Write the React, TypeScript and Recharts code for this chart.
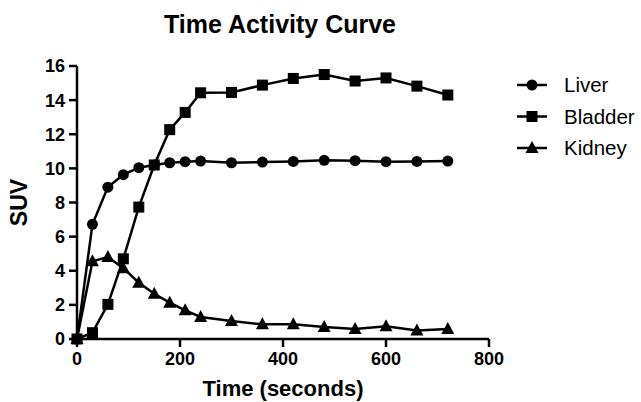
import {
  LineChart,
  Line,
  XAxis,
  YAxis,
} from "recharts";

const times = [0, 30, 60, 90, 120, 150, 180, 210, 240, 300, 360, 420, 480, 540, 600, 660, 720];
const liver = [0, 6.72, 8.9, 9.63, 10.04, 10.2, 10.33, 10.39, 10.43, 10.33, 10.37, 10.41, 10.47, 10.45, 10.39, 10.41, 10.43];
const bladder = [0, 0.37, 2.03, 4.7, 7.73, 10.2, 12.27, 13.28, 14.43, 14.45, 14.88, 15.27, 15.5, 15.12, 15.3, 14.82, 14.3];
const kidney = [0, 4.55, 4.8, 4.15, 3.3, 2.65, 2.13, 1.68, 1.29, 1.05, 0.86, 0.86, 0.7, 0.59, 0.74, 0.5, 0.58];
const xTicks = [0, 200, 400, 600, 800];
const yTicks = [0, 2, 4, 6, 8, 10, 12, 14, 16];

const FONT = "'Liberation Sans', Arial, sans-serif";
const INK = "#000";

const data = times.map((t, i) => ({
  t,
  liver: liver[i],
  bladder: bladder[i],
  kidney: kidney[i],
}));

const CircleDot = ({ cx, cy }: any) => <circle cx={cx} cy={cy} r={5.5} fill={INK} />;
const SquareDot = ({ cx, cy }: any) => (
  <rect x={cx - 5.5} y={cy - 5.5} width={11} height={11} fill={INK} />
);
const TriangleDot = ({ cx, cy }: any) => (
  <polygon points={`${cx},${cy - 7} ${cx - 6.5},${cy + 5} ${cx + 6.5},${cy + 5}`} fill={INK} />
);

const legendItems = [
  { name: "Liver", Shape: CircleDot },
  { name: "Bladder", Shape: SquareDot },
  { name: "Kidney", Shape: TriangleDot },
];

// legend sits outside the chart so it doesn't eat into the plot width
const ChartLegend = () => (
  <svg width={126} height={110} style={{ position: "absolute", left: 515, top: 65 }}>
    {legendItems.map(({ name, Shape }, i) => {
      const y = 20 + i * 31.5;
      return (
        <g key={name}>
          <line x1={2} x2={32} y1={y} y2={y} stroke={INK} strokeWidth={2.5} />
          <Shape cx={17} cy={y} />
          <text x={49} y={y + 7} fontSize={20.5} fontFamily={FONT} fill={INK}>
            {name}
          </text>
        </g>
      );
    })}
  </svg>
);

export default function App() {
  const tickStyle = { fill: INK, fontSize: 18, fontWeight: 700, fontFamily: FONT };
  return (
    <div style={{ position: "absolute", left: 0, top: 0, width: 641, height: 402, background: "#fff" }}>
      <LineChart
        width={641}
        height={402}
        data={data}
        margin={{ top: 66, right: 152, bottom: 4, left: 0 }}
      >
        <text
          x={280}
          y={33}
          textAnchor="middle"
          fontSize={25}
          fontWeight={700}
          fontFamily={FONT}
          fill={INK}
        >
          Time Activity Curve
        </text>
        <XAxis
          type="number"
          dataKey="t"
          domain={[0, 800]}
          ticks={xTicks}
          interval={0}
          height={59}
          tick={tickStyle}
          tickSize={8}
          tickMargin={5}
          axisLine={{ stroke: INK, strokeWidth: 2.5 }}
          tickLine={{ stroke: INK, strokeWidth: 2.5 }}
          label={{
            value: "Time (seconds)",
            position: "insideBottom",
            offset: 2,
            fill: INK,
            fontSize: 22,
            fontWeight: 700,
            fontFamily: FONT,
          }}
        />
        <YAxis
          type="number"
          domain={[0, 16]}
          ticks={yTicks}
          interval={0}
          width={77}
          tick={tickStyle}
          tickSize={8}
          tickMargin={4}
          axisLine={{ stroke: INK, strokeWidth: 2.5 }}
          tickLine={{ stroke: INK, strokeWidth: 2.5 }}
          label={{
            value: "SUV",
            angle: -90,
            position: "insideLeft",
            offset: 19,
            style: { textAnchor: "middle" },
            fill: INK,
            fontSize: 23,
            fontWeight: 700,
            fontFamily: FONT,
          }}
        />
        <Line
          dataKey="liver"
          name="Liver"
          stroke={INK}
          strokeWidth={2.5}
          dot={<CircleDot />}
          activeDot={false}
          isAnimationActive={false}
        />
        <Line
          dataKey="bladder"
          name="Bladder"
          stroke={INK}
          strokeWidth={2.5}
          dot={<SquareDot />}
          activeDot={false}
          isAnimationActive={false}
        />
        <Line
          dataKey="kidney"
          name="Kidney"
          stroke={INK}
          strokeWidth={2.5}
          dot={<TriangleDot />}
          activeDot={false}
          isAnimationActive={false}
        />
      </LineChart>
      <ChartLegend />
    </div>
  );
}
